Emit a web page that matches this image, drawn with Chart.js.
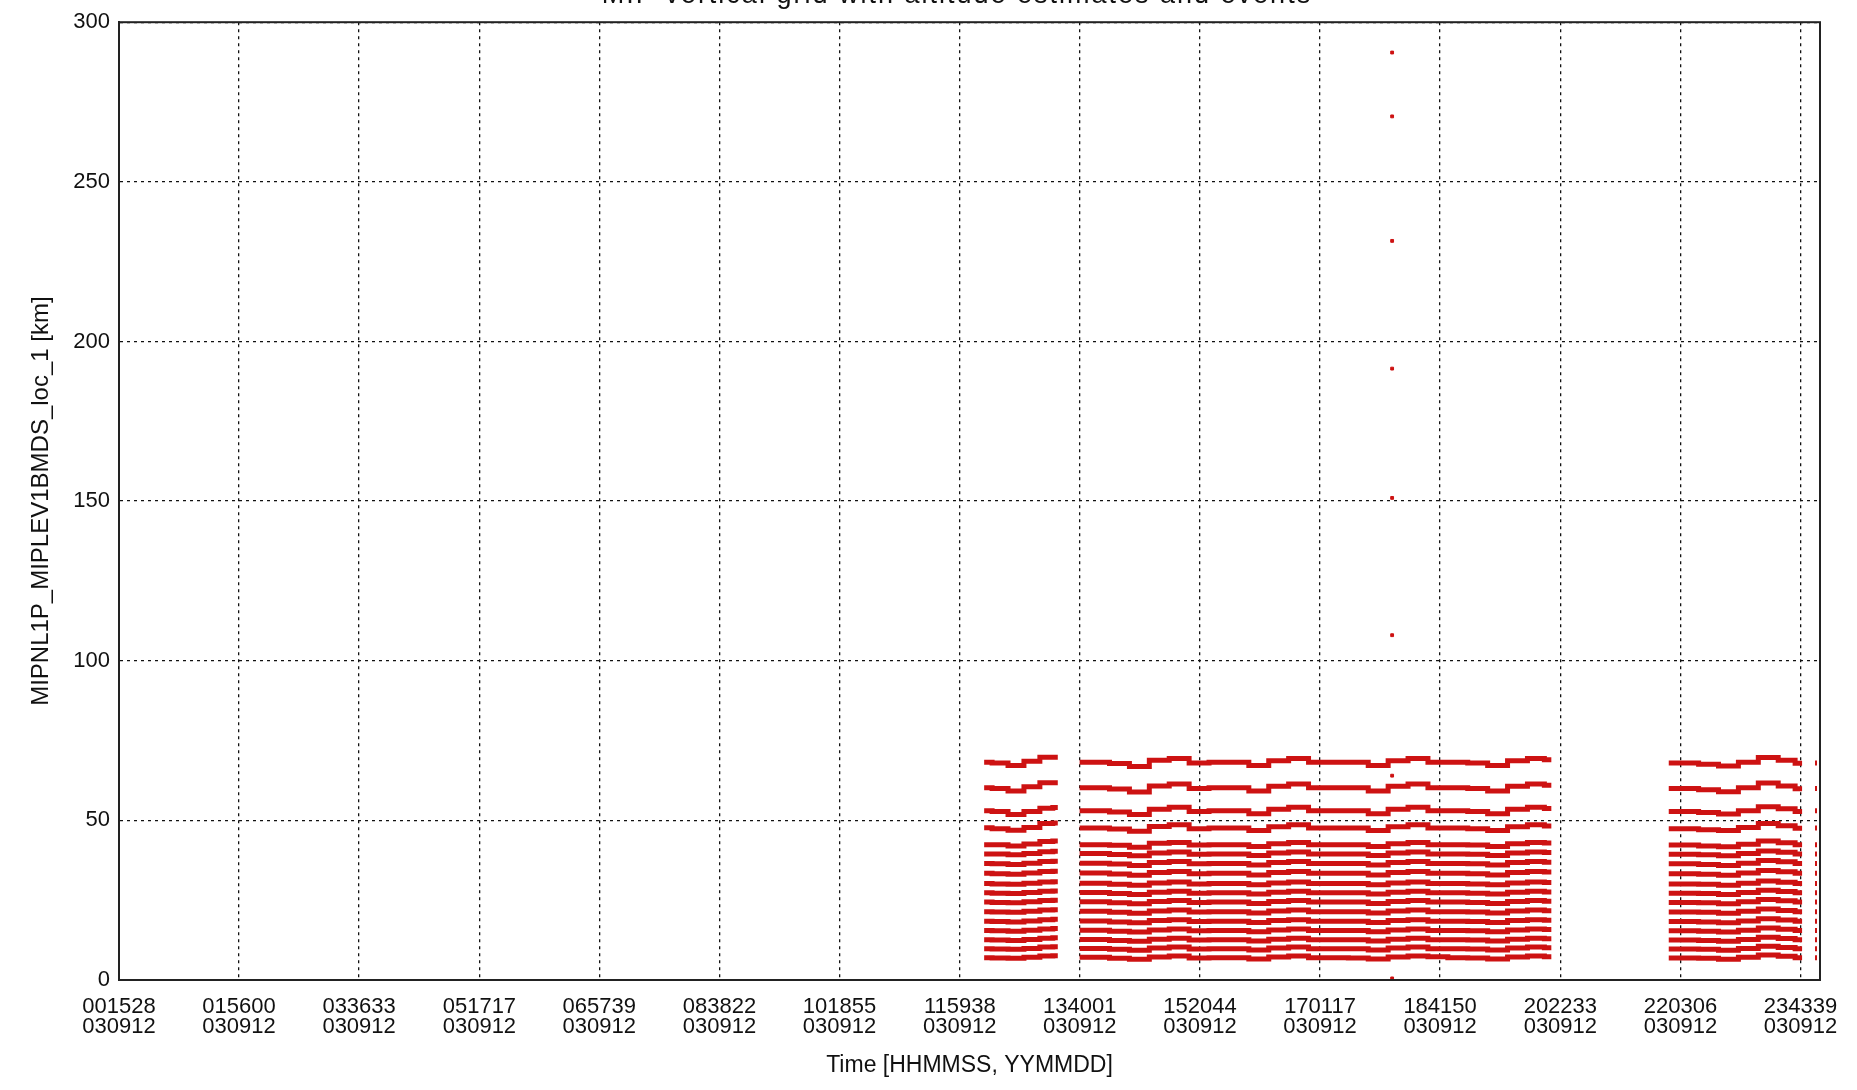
<!DOCTYPE html>
<html><head><meta charset="utf-8">
<script src="https://cdn.jsdelivr.net/npm/chart.js@4/dist/chart.umd.min.js"></script>
<style>html,body{margin:0;padding:0;background:#fff;}#wrap{width:1857px;height:1090px;position:relative;}</style>
</head><body><div id="wrap"><canvas id="c"></canvas></div>
<script>
const titleText = "MIP vertical grid with altitude estimates and events";
const xAxisTitle = "Time [HHMMSS, YYMMDD]";
const yAxisTitle = "MIPNL1P_MIPLEV1BMDS_loc_1 [km]";
const xTickLabels = ["001528","015600","033633","051717","065739","083822","101855","115938","134001","152044","170117","184150","202233","220306","234339"];
const dateLabel = "030912";
const yTickValues = [0,50,100,150,200,250,300];

// sample times (s of day); null-valued entries break the lines between blocks
const sampleTimes = [44400,45200,46000,46800,47600,48100, 48600,
 49200,50200,51200,52200,53200,54200,55200,56200,57200,58200,59200,60200,61200,62200,63200,64200,65200,66200,67200,68200,69200,70200,71200,72200,72900, 75000,
 78800,79800,80800,81800,82800,83800,84800,85500, 85900,
 86150,86250];

const alt68 = [68.2,68.0,67.2,68.5,69.8,69.8,null,
 68.2,68.2,67.8,66.9,68.8,69.4,68.0,68.2,68.2,67.2,68.7,69.4,68.2,68.2,68.2,67.2,68.7,69.4,68.2,68.2,68.0,67.2,68.7,69.4,69.0,null,
 68.0,68.0,67.6,67.0,68.2,69.7,68.8,67.9,null, 68.0,68.0];
const alt60 = [60.2,60.0,59.2,60.5,61.8,61.8,null,
 60.2,60.2,59.8,58.9,60.8,61.4,60.0,60.2,60.2,59.2,60.7,61.4,60.2,60.2,60.2,59.2,60.7,61.4,60.2,60.2,60.0,59.2,60.7,61.4,61.0,null,
 60.0,60.0,59.6,59.0,60.2,61.7,60.8,59.9,null, 60.0,60.0];
const alt52 = [53.0,52.8,51.8,52.8,53.8,54.0,null,
 53.0,53.0,52.6,51.8,53.5,54.1,52.8,53.0,53.0,52.1,53.5,54.1,53.0,53.0,53.0,52.1,53.5,54.1,53.0,53.0,52.8,52.1,53.5,54.1,53.7,null,
 52.8,52.8,52.5,52.0,53.0,54.3,53.6,52.8,null, 53.0,53.0];
const alt47 = [47.7,47.4,46.9,47.8,49.0,49.2,null,
 47.6,47.6,47.3,46.6,48.1,48.6,47.4,47.6,47.6,46.8,48.0,48.6,47.6,47.6,47.6,46.8,48.0,48.6,47.6,47.6,47.4,46.8,48.0,48.6,48.2,null,
 47.4,47.4,47.1,46.8,47.8,49.0,48.3,47.5,null, 47.6,47.6];
const alt42 = [42.4,42.4,42.0,42.6,43.4,43.5,null,
 42.4,42.4,42.2,41.6,42.8,43.1,42.3,42.4,42.4,41.8,42.7,43.1,42.4,42.4,42.4,41.8,42.7,43.1,42.4,42.4,42.3,41.8,42.7,43.1,42.9,null,
 42.3,42.3,42.0,41.7,42.5,43.5,43.0,42.4,null, 42.4,42.4];
const alt39 = [39.5,39.5,39.2,39.6,40.2,40.3,null,
 39.6,39.6,39.3,38.9,39.8,40.1,39.4,39.5,39.5,39.0,39.8,40.1,39.5,39.5,39.5,39.0,39.8,40.1,39.5,39.5,39.4,39.0,39.8,40.1,39.9,null,
 39.4,39.4,39.2,38.9,39.6,40.4,40.0,39.5,null, 39.5,39.5];
const alt36 = [36.5,36.4,36.2,36.6,37.1,37.2,null,
 36.6,36.6,36.3,35.9,36.8,37.1,36.4,36.5,36.5,36.0,36.8,37.1,36.5,36.5,36.5,36.0,36.8,37.1,36.5,36.5,36.4,36.0,36.8,37.1,36.9,null,
 36.4,36.4,36.2,35.9,36.6,37.4,37.0,36.5,null, 36.5,36.5];
const alt33 = [33.4,33.3,33.1,33.5,34.0,34.1,null,
 33.5,33.5,33.2,32.8,33.7,34.0,33.3,33.4,33.4,32.9,33.7,34.0,33.4,33.4,33.4,32.9,33.7,34.0,33.4,33.4,33.3,32.9,33.7,34.0,33.8,null,
 33.3,33.3,33.1,32.8,33.5,34.3,33.9,33.4,null, 33.4,33.4];
const alt30 = [30.2,30.1,30.0,30.3,30.7,30.8,null,
 30.3,30.3,30.0,29.7,30.4,30.7,30.1,30.2,30.2,29.8,30.4,30.7,30.2,30.2,30.2,29.8,30.4,30.7,30.2,30.2,30.1,29.8,30.4,30.7,30.5,null,
 30.1,30.1,30.0,29.7,30.3,31.0,30.6,30.2,null, 30.2,30.2];
const alt27 = [27.3,27.2,27.1,27.4,27.8,27.9,null,
 27.4,27.4,27.1,26.8,27.5,27.8,27.2,27.3,27.3,26.9,27.5,27.8,27.3,27.3,27.3,26.9,27.5,27.8,27.3,27.3,27.2,26.9,27.5,27.8,27.6,null,
 27.2,27.2,27.1,26.8,27.4,28.1,27.7,27.3,null, 27.3,27.3];
const alt24 = [24.4,24.3,24.2,24.5,24.9,25.0,null,
 24.5,24.5,24.2,23.9,24.6,24.9,24.3,24.4,24.4,24.0,24.6,24.9,24.4,24.4,24.4,24.0,24.6,24.9,24.4,24.4,24.3,24.0,24.6,24.9,24.7,null,
 24.3,24.3,24.2,23.9,24.5,25.2,24.8,24.4,null, 24.4,24.4];
const alt21 = [21.4,21.3,21.2,21.5,21.9,22.0,null,
 21.5,21.5,21.2,20.9,21.6,21.9,21.3,21.4,21.4,21.0,21.6,21.9,21.4,21.4,21.4,21.0,21.6,21.9,21.4,21.4,21.3,21.0,21.6,21.9,21.7,null,
 21.3,21.3,21.2,20.9,21.5,22.2,21.8,21.4,null, 21.4,21.4];
const alt18 = [18.4,18.3,18.2,18.5,18.9,19.0,null,
 18.5,18.5,18.2,17.9,18.6,18.9,18.3,18.4,18.4,18.0,18.6,18.9,18.4,18.4,18.4,18.0,18.6,18.9,18.4,18.4,18.3,18.0,18.6,18.9,18.7,null,
 18.3,18.3,18.2,17.9,18.5,19.2,18.8,18.4,null, 18.4,18.4];
const alt15 = [15.5,15.4,15.3,15.6,16.0,16.1,null,
 15.6,15.6,15.3,15.0,15.7,16.0,15.4,15.5,15.5,15.1,15.7,16.0,15.5,15.5,15.5,15.1,15.7,16.0,15.5,15.5,15.4,15.1,15.7,16.0,15.8,null,
 15.4,15.4,15.3,15.0,15.6,16.3,15.9,15.5,null, 15.5,15.5];
const alt12 = [12.6,12.5,12.4,12.7,13.1,13.2,null,
 12.7,12.7,12.4,12.1,12.8,13.1,12.5,12.6,12.6,12.2,12.8,13.1,12.6,12.6,12.6,12.2,12.8,13.1,12.6,12.6,12.5,12.2,12.8,13.1,12.9,null,
 12.5,12.5,12.4,12.1,12.7,13.4,13.0,12.6,null, 12.6,12.6];
const alt9 = [9.8,9.7,9.6,9.9,10.3,10.4,null,
 9.9,9.9,9.6,9.3,10.0,10.3,9.7,9.8,9.8,9.4,10.0,10.3,9.8,9.8,9.8,9.4,10.0,10.3,9.8,9.8,9.7,9.4,10.0,10.3,10.1,null,
 9.7,9.7,9.6,9.3,9.9,10.6,10.2,9.8,null, 9.8,9.8];
const alt6 = [7.0,6.9,6.8,7.1,7.5,7.6,null,
 7.1,7.1,6.8,6.5,7.2,7.5,6.9,7.0,7.0,6.6,7.2,7.5,7.0,7.0,6.9,6.6,7.2,7.5,7.3,7.0,6.9,6.6,7.2,7.5,7.3,null,
 6.9,6.9,6.8,6.5,7.1,7.8,7.4,7.0,null, 7.0,7.0];

const eventTime = 64900;
const eventAltitudes = [290.5,270.5,231.5,191.5,151,108,64,0.5];

const levels = [alt68,alt60,alt52,alt47,alt42,alt39,alt36,alt33,alt30,alt27,alt24,alt21,alt18,alt15,alt12,alt9,alt6];

function hmsToSec(s){return (+s.slice(0,2))*3600+(+s.slice(2,4))*60+(+s.slice(4,6));}
const xTickSeconds = xTickLabels.map(hmsToSec);

const RED = 'rgb(205,18,18)';
const datasets = levels.map(arr => ({
  data: sampleTimes.map((t,i)=>({x:t,y:arr[i]})),
  borderColor: RED, borderWidth: 5, pointRadius: 0, stepped: 'middle', spanGaps: false, fill:false
}));
datasets.push({
  type:'scatter',
  data: eventAltitudes.map(a=>({x:eventTime,y:a})),
  pointStyle:'rect', pointRadius:2, backgroundColor:RED, borderColor:RED, borderWidth:1
});

const FONT = "'Liberation Sans', Arial, sans-serif";

const framePlugin = {
  id:'frame',
  afterDraw(chart){
    const {ctx, chartArea:a} = chart;
    ctx.save();
    ctx.strokeStyle='#222'; ctx.lineWidth=2; ctx.setLineDash([]);
    ctx.strokeRect(a.left, a.top, a.right-a.left, a.bottom-a.top);
    ctx.fillStyle='#111'; ctx.font = "27px "+FONT; ctx.textAlign='center'; ctx.textBaseline='alphabetic';
    try { ctx.letterSpacing = '2px'; } catch(e) {}
    ctx.fillText(titleText, 957, 3);
    ctx.restore();
  }
};

new Chart(document.getElementById('c'), {
  type:'line',
  data:{datasets},
  plugins:[framePlugin],
  options:{
    responsive:true, maintainAspectRatio:false, animation:false, devicePixelRatio:1,
    layout:{padding:{top:20,right:37,left:0,bottom:0}},
    plugins:{legend:{display:false}, tooltip:{enabled:false}, title:{display:false}},
    scales:{
      x:{type:'linear', min:928, max:86400,
        afterBuildTicks(s){ s.ticks = xTickSeconds.map(v=>({value:v})); },
        afterFit(s){ s.height = 110; },
        ticks:{ autoSkip:false, maxRotation:0, padding:16, color:'#111',
          font:{family:FONT,size:22,lineHeight:0.95},
          callback:(v,i)=>[xTickLabels[i], dateLabel] },
        grid:{ color:'#111', lineWidth:1.3, drawTicks:false },
        border:{ display:true, color:'#222', width:2, dash:[3,4] },
        title:{ display:true, text:xAxisTitle, color:'#111', font:{family:FONT,size:23,lineHeight:1.0}, padding:{top:0,bottom:13} }
      },
      y:{type:'linear', min:0, max:300,
        afterBuildTicks(s){ s.ticks = yTickValues.map(v=>({value:v})); },
        afterFit(s){ s.width = 119; },
        ticks:{ padding:9, color:'#111', font:{family:FONT,size:22} },
        grid:{ color:'#111', lineWidth:1.3, drawTicks:false },
        border:{ display:true, color:'#222', width:2, dash:[3,4] },
        title:{ display:true, text:yAxisTitle, color:'#111', font:{family:FONT,size:24,lineHeight:1.0}, padding:{top:29,bottom:0} }
      }
    }
  }
});
</script></body></html>
